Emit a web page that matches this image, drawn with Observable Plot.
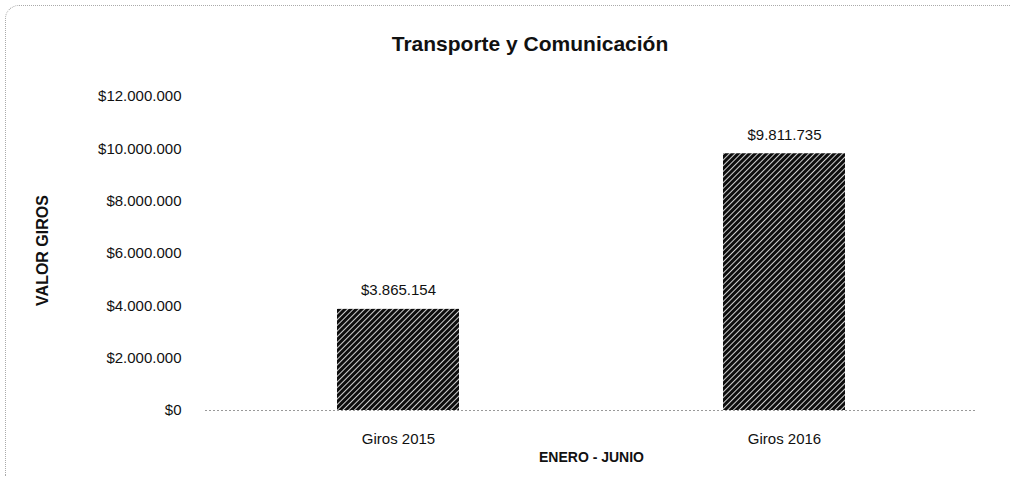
<!DOCTYPE html>
<html><head><meta charset="utf-8">
<script src="https://cdn.jsdelivr.net/npm/d3@7"></script>
<script src="https://cdn.jsdelivr.net/npm/@observablehq/plot@0.6"></script>
<style>
html,body{margin:0;padding:0;background:#fff;}
#wrap{position:relative;width:1010px;height:478px;overflow:hidden;font-family:"Liberation Sans",Arial,sans-serif;}
#frame{position:absolute;left:5px;top:5px;width:1020px;height:470px;border-top:1px dotted #aaa;border-left:1px dotted #aaa;border-top-left-radius:14px;}
#title{position:absolute;top:32px;left:0;width:1060px;text-align:center;font-weight:bold;font-size:21px;color:#111;}
#chart{position:absolute;left:0;top:0;}
</style></head>
<body><div id="wrap"><div id="frame"></div><div id="title">Transporte y Comunicación</div><div id="chart"></div></div>
<script>
const categories = ["Giros 2015", "Giros 2016"];
const values = [3865154, 9811735];
const yTicks = [0, 2000000, 4000000, 6000000, 8000000, 10000000, 12000000];

const data = categories.map((c, i) => ({cat: c, val: values[i]}));
const loc = d3.formatLocale({decimal: ",", thousands: ".", grouping: [3], currency: ["$", ""]});
const fmt = loc.format("$,.0f");

const chart = Plot.plot({
  width: 1010, height: 478,
  marginTop: 96, marginBottom: 68, marginLeft: 205, marginRight: 33,
  style: {fontFamily: "Liberation Sans, Arial, sans-serif", fontSize: "15px", color: "#111", background: "transparent"},
  x: {domain: categories, paddingInner: 0.684, paddingOuter: 0.342, label: null},
  y: {domain: [0, 12000000], ticks: yTicks, tickFormat: fmt, label: null},
  marks: [
    () => {
      const ns = "http://www.w3.org/2000/svg";
      const g = document.createElementNS(ns, "defs");
      g.innerHTML = `<pattern id="hatch" patternUnits="userSpaceOnUse" width="4" height="4" patternTransform="rotate(45)">
        <rect width="4" height="4" fill="#0d0d0d"/><rect x="0" y="0" width="1" height="4" fill="#d0d0d0"/></pattern>`;
      return g;
    },
    Plot.ruleY([0], {stroke: "#999", strokeDasharray: "2,2"}),
    Plot.barY(data, {x: "cat", y: "val", fill: "url(#hatch)"}),
    Plot.text(data, {x: "cat", y: "val", text: d => fmt(d.val), lineAnchor: "bottom", dy: -14, fontSize: 15, fill: "#111"}),
    Plot.axisY({ticks: yTicks, tickFormat: fmt, tickSize: 0, tickPadding: 24, label: null, fontSize: 15}),
    Plot.axisX({tickSize: 0, tickPadding: 23, label: null, fontSize: 15}),
    Plot.text(["ENERO - JUNIO"], {frameAnchor: "bottom", dy: 51, fontWeight: "bold", fontSize: 14, fill: "#111"}),
    Plot.text(["VALOR GIROS"], {frameAnchor: "left", textAnchor: "middle", dx: -163, dy: -3, rotate: -90, fontWeight: "bold", fontSize: 16, fill: "#111"})
  ]
});
document.getElementById("chart").appendChild(chart);
</script></body></html>
